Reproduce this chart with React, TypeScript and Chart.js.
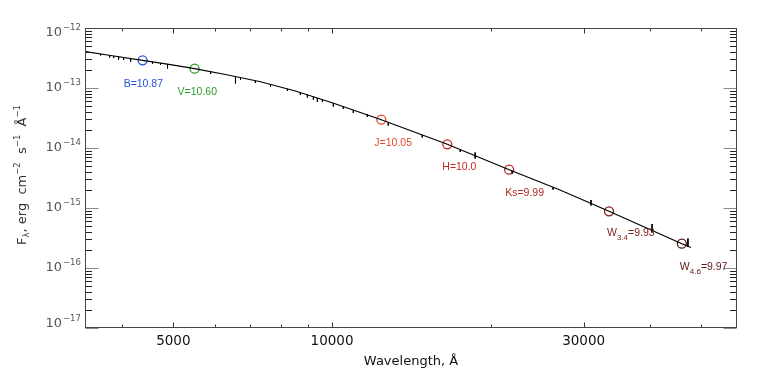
import React, { useEffect, useRef } from "react";
import { Chart, registerables } from "chart.js";
Chart.register(...registerables);

// ---- data (wavelength in Å, flux in erg cm^-2 s^-1 Å^-1) ----
const sedWave = [3410, 3803, 4373, 4940, 5486, 6280, 7315, 8520, 9970, 12400, 16540, 21670, 27060, 33510, 40070, 46060, 47920];
const sedFlux = [4.03e-13, 3.48e-13, 2.89e-13, 2.46e-13, 2.10e-13, 1.68e-13, 1.27e-13, 8.91e-14, 5.73e-14, 2.96e-14, 1.153e-14, 4.35e-15, 2.0e-15, 8.81e-16, 4.38e-16, 2.54e-16, 2.2e-16];

// absorption features of the model spectrum
const absWave = [3640, 3786, 3853, 3937, 4024, 4149, 4566, 4728, 4875, 5884, 6559, 6704, 7155, 7643, 8229, 8708, 8979, 9217, 9379, 9586, 10057, 10505, 10973, 11666, 12783, 14826, 17502, 18680, 21954, 26250, 30980, 40440, 47300];
const absTop = [3.70e-13, 3.51e-13, 3.41e-13, 3.31e-13, 3.21e-13, 3.10e-13, 2.73e-13, 2.61e-13, 2.51e-13, 1.87e-13, 1.55e-13, 1.49e-13, 1.32e-13, 1.148e-13, 9.66e-14, 8.38e-14, 7.70e-14, 7.16e-14, 6.81e-14, 6.46e-14, 5.62e-14, 4.95e-14, 4.30e-14, 3.60e-14, 2.68e-14, 1.65e-14, 9.40e-15, 8.41e-15, 4.15e-15, 2.22e-15, 1.36e-15, 5.41e-16, 3.10e-16];
const absBottom = [3.49e-13, 3.22e-13, 3.16e-13, 2.99e-13, 2.93e-13, 2.76e-13, 2.51e-13, 2.42e-13, 2.11e-13, 1.71e-13, 1.19e-13, 1.36e-13, 1.21e-13, 1.04e-13, 8.91e-14, 7.64e-14, 6.95e-14, 6.43e-14, 5.85e-14, 5.85e-14, 4.92e-14, 4.47e-14, 3.83e-14, 3.29e-14, 2.37e-14, 1.50e-14, 8.58e-15, 6.68e-15, 3.76e-15, 2.03e-15, 1.10e-15, 3.91e-16, 2.24e-16];

// photometry
const bandName = ["B", "V", "J", "H", "Ks", "W", "W"];
const bandSub = ["", "", "", "", "", "3.4", "4.6"];
const bandMag = ["10.87", "10.60", "10.05", "10.0", "9.99", "9.93", "9.97"];
const bandWave = [4373, 5486, 12400, 16540, 21670, 33510, 46060];
const bandFlux = [2.89e-13, 2.10e-13, 2.96e-14, 1.153e-14, 4.35e-15, 8.81e-16, 2.54e-16];

// axes
const xMin = 3400;
const xMax = 58600;
const xMajorTicks = [5000, 10000, 30000];
const xMinorTicks = [4000, 6000, 7000, 8000, 9000, 20000, 40000, 50000];
const yDecades = [-17, -16, -15, -14, -13, -12];
const xTitle = "Wavelength, Å";

// ---- styling ----
const bandColor = ["#2456d8", "#2a9a2a", "#e4482a", "#c42a22", "#b02a24", "#7c1c1c", "#5a1812"];
const labelOffset = [[-19, 24], [-17, 23], [-7, 23.5], [-5, 22.7], [-4, 23.3], [-2, 22], [-2, 23.6]];
const AX_FONT = "'DejaVu Sans', sans-serif";
const LB_FONT = "'Liberation Sans', Arial, sans-serif";

type Part = { t: string; size: number; dy: number };

function partsWidth(ctx: CanvasRenderingContext2D, parts: Part[], font: string) {
  let w = 0;
  for (const p of parts) {
    ctx.font = `${p.size}px ${font}`;
    w += ctx.measureText(p.t).width;
  }
  return w;
}
function drawParts(ctx: CanvasRenderingContext2D, parts: Part[], x: number, y: number, font: string) {
  let cx = x;
  for (const p of parts) {
    ctx.font = `${p.size}px ${font}`;
    ctx.fillText(p.t, cx, y + p.dy);
    cx += ctx.measureText(p.t).width;
  }
}

const axisPlugin = {
  id: "idlAxes",
  afterDraw(chart: any) {
    const { ctx, chartArea: a, scales } = chart;
    const xs = scales.x;
    const ys = scales.y;
    const L = Math.round(a.left) + 0.5;
    const R = Math.round(a.right) - 0.5;
    const T = Math.round(a.top) + 0.5;
    const B = Math.round(a.bottom) - 0.5;
    ctx.save();
    ctx.lineWidth = 1;

    // y ticks (both sides)
    for (const e of yDecades) {
      const yp = Math.round(ys.getPixelForValue(Math.pow(10, e))) + 0.5;
      ctx.strokeStyle = "#8a8a8a";
      ctx.beginPath();
      ctx.moveTo(L, yp); ctx.lineTo(L + 13, yp);
      ctx.moveTo(R, yp); ctx.lineTo(R - 13, yp);
      ctx.stroke();
      if (e < -12) {
        ctx.strokeStyle = "#222";
        ctx.beginPath();
        for (let m = 2; m <= 9; m++) {
          const yy = Math.round(ys.getPixelForValue(m * Math.pow(10, e))) + 0.5;
          ctx.moveTo(L, yy); ctx.lineTo(L + 6.5, yy);
          ctx.moveTo(R, yy); ctx.lineTo(R - 6.5, yy);
        }
        ctx.stroke();
      }
    }
    // x ticks (bottom and top)
    ctx.strokeStyle = "#333";
    ctx.beginPath();
    for (const v of xMajorTicks) {
      const xp = Math.round(xs.getPixelForValue(v)) + 0.5;
      ctx.moveTo(xp, B); ctx.lineTo(xp, B - 5);
      ctx.moveTo(xp, T); ctx.lineTo(xp, T + 5);
    }
    for (const v of xMinorTicks) {
      const xp = Math.round(xs.getPixelForValue(v)) + 0.5;
      ctx.moveTo(xp, B); ctx.lineTo(xp, B - 3);
      ctx.moveTo(xp, T); ctx.lineTo(xp, T + 3);
    }
    ctx.stroke();

    // frame
    ctx.strokeStyle = "#444";
    ctx.strokeRect(L, T, R - L, B - T);

    // x tick labels
    ctx.fillStyle = "#111";
    ctx.textBaseline = "middle";
    ctx.textAlign = "center";
    ctx.font = `13.5px ${AX_FONT}`;
    for (const v of xMajorTicks) {
      ctx.fillText(String(v), xs.getPixelForValue(v), a.bottom + 13);
    }
    // x title
    ctx.font = `13px ${AX_FONT}`;
    ctx.fillText(xTitle, (a.left + a.right) / 2, a.bottom + 34);

    // y tick labels 10^e
    ctx.fillStyle = "#555";
    for (const e of yDecades) {
      let yp = ys.getPixelForValue(Math.pow(10, e));
      if (e === yDecades[yDecades.length - 1]) yp += 5;
      if (e === yDecades[0]) yp -= 4;
      ctx.textAlign = "right";
      ctx.font = `13px ${AX_FONT}`;
      ctx.fillText("10", a.left - 23, yp);
      ctx.textAlign = "left";
      ctx.font = `8.5px ${AX_FONT}`;
      ctx.fillText("\u2212" + String(-e).replace(/^/, ""), a.left - 22, yp - 5);
    }

    // y title (rotated)
    ctx.save();
    ctx.translate(23, (a.top + a.bottom) / 2 - 3);
    ctx.rotate(-Math.PI / 2);
    ctx.fillStyle = "#333";
    ctx.textAlign = "left";
    const yParts: Part[] = [
      { t: "F", size: 13, dy: 0 },
      { t: "\u03bb", size: 8.5, dy: 4 },
      { t: ", erg  cm", size: 13, dy: 0 },
      { t: "\u22122", size: 8.5, dy: -5 },
      { t: "  s", size: 13, dy: 0 },
      { t: "\u22121", size: 8.5, dy: -5 },
      { t: "  \u00c5", size: 13, dy: 0 },
      { t: "\u22121", size: 8.5, dy: -5 },
    ];
    const tw = partsWidth(ctx, yParts, AX_FONT);
    drawParts(ctx, yParts, -tw / 2, 0, AX_FONT);
    ctx.restore();

    // photometry labels
    ctx.textAlign = "left";
    ctx.textBaseline = "middle";
    for (let i = 0; i < bandWave.length; i++) {
      const px = xs.getPixelForValue(bandWave[i]) + labelOffset[i][0];
      const py = ys.getPixelForValue(bandFlux[i]) + labelOffset[i][1];
      ctx.fillStyle = bandColor[i];
      const parts: Part[] = [{ t: bandName[i], size: 10.5, dy: 0 }];
      if (bandSub[i]) parts.push({ t: bandSub[i], size: 8, dy: 4 });
      parts.push({ t: "=" + bandMag[i], size: 10.5, dy: 0 });
      drawParts(ctx, parts, px, py, LB_FONT);
    }
    ctx.restore();
  },
};

export default function App() {
  const ref = useRef<HTMLCanvasElement>(null);
  useEffect(() => {
    const canvas = ref.current as HTMLCanvasElement;
    const chart = new Chart(canvas, {
      type: "scatter",
      data: {
        datasets: [
          {
            data: sedWave.map((x, i) => ({ x, y: sedFlux[i] })),
            showLine: true,
            borderColor: "#000",
            borderWidth: 1.2,
            pointRadius: 0,
          },
          {
            data: absWave.flatMap((x, i) => [
              { x, y: absTop[i] },
              { x, y: absBottom[i] },
              { x, y: null },
            ]),
            showLine: true,
            spanGaps: false,
            borderColor: "#000",
            borderWidth: 1,
            pointRadius: 0,
          },
          {
            data: bandWave.map((x, i) => ({ x, y: bandFlux[i] })),
            showLine: false,
            pointRadius: 4.5,
            pointBorderWidth: 1.3,
            pointBackgroundColor: "rgba(0,0,0,0)",
            pointBorderColor: bandColor,
            pointStyle: "circle",
          },
        ] as any,
      },
      options: {
        responsive: false,
        maintainAspectRatio: false,
        animation: false,
        devicePixelRatio: 1,
        events: [],
        layout: { padding: { left: 85, right: 26, top: 28, bottom: 54 } },
        plugins: { legend: { display: false }, tooltip: { enabled: false } },
        scales: {
          x: { type: "logarithmic", min: xMin, max: xMax, display: false },
          y: { type: "logarithmic", min: 1e-17, max: 1e-12, display: false },
        },
      } as any,
      plugins: [axisPlugin],
    });
    return () => chart.destroy();
  }, []);
  return (
    <div style={{ position: "absolute", left: 0, top: 0, width: 763, height: 382, background: "#fff" }}>
      <canvas ref={ref} width={763} height={382} style={{ display: "block" }} />
    </div>
  );
}
